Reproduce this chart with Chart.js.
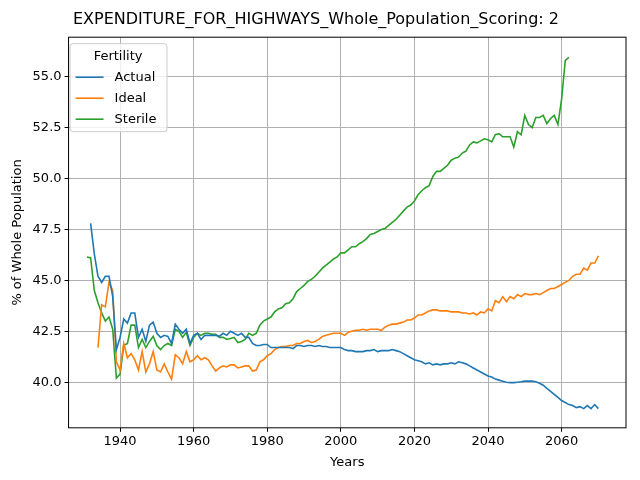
<!DOCTYPE html>
<html>
<head>
<meta charset="utf-8">
<script src="https://cdn.jsdelivr.net/npm/chart.js@4/dist/chart.umd.min.js"></script>
<style>
  html, body { margin: 0; padding: 0; background: #fff; }
  #wrap { width: 640px; height: 480px; }
</style>
</head>
<body>
<div id="wrap"><canvas id="c" width="640" height="480"></canvas></div>
<script>
const seriesNames = ['Actual', 'Ideal', 'Sterile']
const seriesColors = ['#1f77b4', '#ff7f0e', '#2ca02c']

const actualStart = 1932
const actual = [
    47.8, 46.3, 45.2, 44.9, 45.2, 45.2, 44.2, 41.6, 42.2, 43.1,
    42.9, 43.4, 43.4, 42.2, 42.6, 42.0, 42.8, 42.95, 42.4, 42.2,
    42.3, 42.25, 41.9, 42.85, 42.6, 42.4, 42.6, 41.9, 42.3, 42.4,
    42.1, 42.3, 42.3, 42.3, 42.3, 42.25, 42.4, 42.3, 42.5, 42.4,
    42.3, 42.4, 42.2, 42.2, 41.9, 41.8, 41.8, 41.85, 41.85, 41.7,
    41.7, 41.7, 41.7, 41.7, 41.7, 41.65, 41.8, 41.8, 41.75, 41.8,
    41.8, 41.75, 41.8, 41.75, 41.75, 41.7, 41.7, 41.7, 41.7, 41.6,
    41.55, 41.55, 41.5, 41.5, 41.5, 41.55, 41.55, 41.6, 41.5, 41.55,
    41.55, 41.55, 41.6, 41.55, 41.5, 41.4, 41.3, 41.2, 41.1, 41.05,
    41.0, 40.9, 40.95, 40.85, 40.9, 40.85, 40.9, 40.9, 40.95, 40.9,
    41.0, 40.95, 40.9, 40.8, 40.7, 40.6, 40.5, 40.4, 40.3, 40.25,
    40.15, 40.1, 40.05, 40.0, 39.98, 39.98, 40.0, 40.02, 40.05, 40.05,
    40.05, 40.02, 39.95, 39.85, 39.7, 39.55, 39.4, 39.25, 39.1, 39.0,
    38.9, 38.85, 38.75, 38.8, 38.7, 38.85, 38.7, 38.9, 38.7
]

const idealStart = 1934
const ideal = [
    41.7, 43.8, 43.7, 44.9, 44.5, 41.0, 40.6, 41.9, 41.2, 41.4,
    41.1, 40.6, 41.5, 40.5, 40.9, 41.5, 40.6, 40.5, 40.9, 40.5,
    40.15, 41.35, 41.2, 40.9, 41.5, 41.0, 41.1, 41.3, 41.1, 41.2,
    41.1, 40.8, 40.55, 40.7, 40.8, 40.75, 40.85, 40.85, 40.7, 40.75,
    40.8, 40.8, 40.55, 40.6, 41.0, 41.1, 41.3, 41.4, 41.6, 41.7,
    41.75, 41.75, 41.8, 41.8, 41.9, 41.9, 42.0, 42.05, 41.95, 42.0,
    42.1, 42.25, 42.3, 42.35, 42.4, 42.4, 42.4, 42.3, 42.45, 42.5,
    42.55, 42.55, 42.6, 42.55, 42.6, 42.6, 42.6, 42.55, 42.7, 42.8,
    42.85, 42.85, 42.9, 42.95, 43.05, 43.05, 43.15, 43.3, 43.3, 43.4,
    43.5, 43.55, 43.55, 43.5, 43.5, 43.5, 43.45, 43.45, 43.45, 43.4,
    43.4, 43.35, 43.4, 43.3, 43.45, 43.4, 43.6, 43.5, 44.0, 43.9,
    44.2, 43.95, 44.2, 44.1, 44.3, 44.2, 44.35, 44.3, 44.3, 44.35,
    44.3, 44.4, 44.5, 44.6, 44.6, 44.7, 44.8, 44.9, 45.0, 45.2,
    45.3, 45.3, 45.6, 45.5, 45.85, 45.85, 46.2
]

const sterileStart = 1931
const sterile = [
    46.15, 46.1, 44.5, 43.9, 43.4, 43.0, 43.2, 42.6, 40.2, 40.4,
    41.8, 41.9, 42.8, 42.8, 41.7, 42.1, 41.7, 42.0, 42.25, 41.8,
    41.6, 41.8, 41.9, 41.8, 42.6, 42.5, 42.2, 42.45, 41.8, 42.2,
    42.4, 42.3, 42.4, 42.4, 42.35, 42.35, 42.2, 42.2, 42.1, 42.15,
    42.2, 41.95, 42.0, 42.1, 42.4, 42.3, 42.4, 42.8, 43.0, 43.1,
    43.2, 43.45, 43.6, 43.65, 43.85, 43.9, 44.1, 44.45, 44.6, 44.75,
    44.95, 45.05, 45.2, 45.4, 45.6, 45.75, 45.9, 46.05, 46.15, 46.35,
    46.35, 46.5, 46.65, 46.65, 46.8, 46.9, 47.05, 47.25, 47.3, 47.4,
    47.5, 47.55, 47.7, 47.85, 48.0, 48.2, 48.4, 48.6, 48.7, 48.9,
    49.2, 49.4, 49.55, 49.65, 50.1, 50.35, 50.35, 50.5, 50.65, 50.9,
    51.0, 51.05, 51.25, 51.35, 51.65, 51.8, 51.75, 51.85, 51.95, 51.9,
    51.8, 52.15, 52.2, 52.05, 52.05, 52.05, 51.55, 52.3, 52.15, 53.1,
    52.65, 52.5, 53.0, 53.0, 53.1, 52.7, 52.95, 53.1, 52.65, 53.9,
    55.8, 55.95
]

const xTicks = [1940, 1960, 1980, 2000, 2020, 2040, 2060]
const yTicks = [40.0, 42.5, 45.0, 47.5, 50.0, 52.5, 55.0]

function toPoints(start, values) {
    return values.map((v, i) => ({ x: start + i, y: v }))
}

const datasets = [
    [actualStart, actual],
    [idealStart, ideal],
    [sterileStart, sterile]
].map(([start, vals], i) => ({
    label: seriesNames[i],
    data: toPoints(start, vals),
    borderColor: seriesColors[i],
    backgroundColor: seriesColors[i],
    borderWidth: 1.6,
    pointRadius: 0,
    tension: 0
}))

const font = { family: 'DejaVu Sans', size: 13 }

// legend box drawn inside the plot, top-left
const innerLegend = {
    id: 'innerLegend',
    afterDraw(chart) {
        const { ctx, chartArea } = chart
        const x0 = chartArea.left + 1, y0 = chartArea.top + 6
        const w = 97, h = 88
        ctx.save()
        ctx.fillStyle = 'rgba(255,255,255,0.8)'
        ctx.strokeStyle = '#cccccc'
        ctx.lineWidth = 1
        ctx.beginPath()
        ctx.roundRect(x0 + 0.5, y0 + 0.5, w, h, 3)
        ctx.fill()
        ctx.stroke()
        ctx.fillStyle = '#000'
        ctx.font = '13px "DejaVu Sans"'
        ctx.textBaseline = 'middle'
        ctx.textAlign = 'center'
        ctx.fillText('Fertility', x0 + w / 2, y0 + 13)
        ctx.textAlign = 'left'
        seriesNames.forEach((name, i) => {
            const yy = y0 + 34 + i * 21
            ctx.strokeStyle = seriesColors[i]
            ctx.lineWidth = 1.6
            ctx.beginPath()
            ctx.moveTo(x0 + 6, yy)
            ctx.lineTo(x0 + 34, yy)
            ctx.stroke()
            ctx.fillText(name, x0 + 45, yy)
        })
        ctx.restore()
    }
}

const frame = {
    id: 'frame',
    afterDraw(chart) {
        const { ctx, chartArea: a } = chart
        ctx.save()
        ctx.strokeStyle = '#000'
        ctx.lineWidth = 1
        ctx.strokeRect(a.left, a.top, a.right - a.left, a.bottom - a.top)
        ctx.restore()
    }
}

new Chart(document.getElementById('c'), {
    type: 'line',
    data: { datasets },
    plugins: [innerLegend, frame],
    options: {
        animation: false,
        responsive: false,
        devicePixelRatio: 1,
        layout: { padding: { left: 6, right: 14, top: 4, bottom: 6 } },
        plugins: {
            legend: { display: false },
            tooltip: { enabled: false },
            title: {
                display: true,
                text: 'EXPENDITURE_FOR_HIGHWAYS_Whole_Population_Scoring: 2',
                color: '#000',
                font: { family: 'DejaVu Sans', size: 16, weight: 'normal' },
                padding: { top: 6, bottom: 8 }
            }
        },
        scales: {
            x: {
                type: 'linear',
                min: 1926,
                max: 2077.5,
                afterBuildTicks(axis) { axis.ticks = xTicks.map(v => ({ value: v })) },
                ticks: { color: '#000', font, callback: v => String(v), maxRotation: 0, padding: 2 },
                grid: { color: '#b0b0b0', drawTicks: true, tickLength: 4, tickColor: '#000' },
                border: { display: false },
                title: { display: true, text: 'Years', color: '#000', font, padding: { top: 3 } }
            },
            y: {
                min: 37.76,
                max: 56.94,
                afterBuildTicks(axis) { axis.ticks = yTicks.map(v => ({ value: v })) },
                ticks: { color: '#000', font, callback: v => Number(v).toFixed(1), padding: 3 },
                grid: { color: '#b0b0b0', drawTicks: true, tickLength: 4, tickColor: '#000' },
                border: { display: false },
                title: { display: true, text: '% of Whole Population', color: '#000', font, padding: { bottom: 4 } }
            }
        }
    }
})
</script>
</body>
</html>
